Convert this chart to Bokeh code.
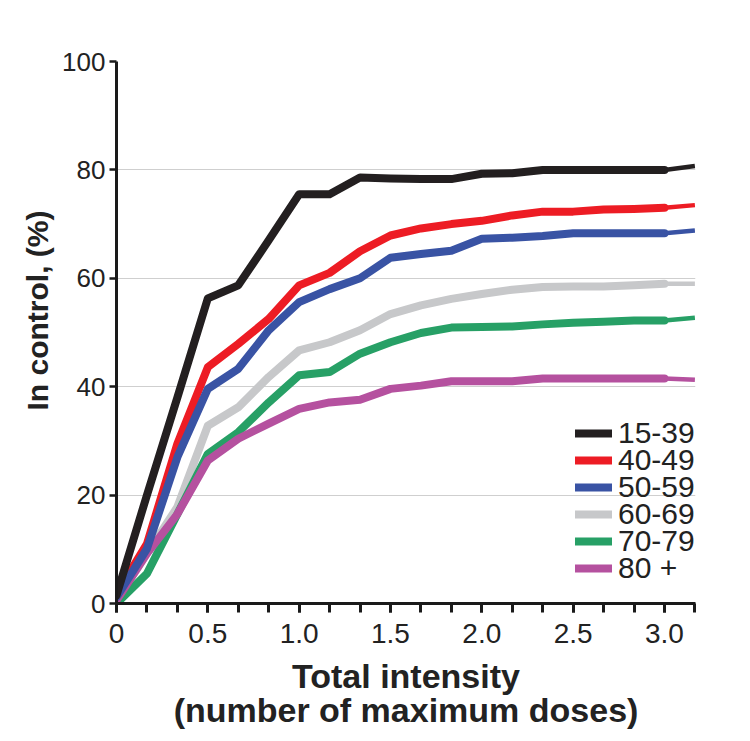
from bokeh.plotting import figure
from bokeh.models import Range1d, FixedTicker, Legend, LegendItem, Title
from bokeh.embed import file_html
from bokeh.resources import INLINE

# Dose intensity (number of maximum doses), steps of 1/6
intensity = [0.0, 0.1667, 0.3333, 0.5, 0.6667, 0.8333, 1.0, 1.1667, 1.3333, 1.5,
             1.6667, 1.8333, 2.0, 2.1667, 2.3333, 2.5, 2.6667, 2.8333, 3.0, 3.1667]

age_groups = ["15-39", "40-49", "50-59", "60-69", "70-79", "80 +"]

ctrl_15_39 = [1.5, 20.0, 38.0, 56.3, 58.7, 67.0, 75.5, 75.5, 78.6, 78.4,
              78.3, 78.3, 79.3, 79.4, 80.0, 80.0, 80.0, 80.0, 80.0, 80.7]
ctrl_40_49 = [1.8, 11.0, 29.5, 43.6, 47.9, 52.5, 58.7, 61.0, 65.0, 67.9,
              69.2, 70.0, 70.6, 71.6, 72.3, 72.3, 72.7, 72.8, 73.0, 73.5]
ctrl_50_59 = [1.2, 10.1, 27.0, 39.6, 43.3, 50.4, 55.6, 58.0, 60.0, 63.8,
              64.5, 65.1, 67.3, 67.5, 67.8, 68.3, 68.3, 68.3, 68.3, 68.8]
ctrl_60_69 = [0.6, 9.2, 17.8, 32.8, 36.2, 41.8, 46.7, 48.2, 50.4, 53.4,
              55.0, 56.2, 57.1, 57.9, 58.4, 58.5, 58.5, 58.7, 59.0, 59.0]
ctrl_70_79 = [0.0, 5.5, 16.5, 27.6, 31.6, 37.1, 42.1, 42.7, 46.1, 48.2,
              49.9, 50.9, 51.0, 51.1, 51.5, 51.8, 52.0, 52.2, 52.2, 52.7]
ctrl_80 = [0.6, 9.2, 16.5, 26.4, 30.4, 33.2, 35.9, 37.1, 37.6, 39.6,
           40.2, 41.0, 41.0, 41.0, 41.5, 41.5, 41.5, 41.5, 41.5, 41.3]

series = [ctrl_15_39, ctrl_40_49, ctrl_50_59, ctrl_60_69, ctrl_70_79, ctrl_80]
colors = ["#231f20", "#ed1c24", "#3953a4", "#c7c8ca", "#27a066", "#b5519f"]

x_major_ticks = [0, 0.5, 1.0, 1.5, 2.0, 2.5, 3.0]
x_tick_labels = ["0", "0.5", "1.0", "1.5", "2.0", "2.5", "3.0"]
y_ticks = [0, 20, 40, 60, 80, 100]

x_title = "Total intensity\n(number of maximum doses)"
y_title = "In control, (%)"

FONT = "Liberation Sans"
TXT = "#222222"

p = figure(width=745, height=740, x_range=Range1d(0, 3.17), y_range=Range1d(0, 100),
           output_backend="svg", toolbar_location=None,
           min_border_left=116, min_border_right=50, min_border_top=61, min_border_bottom=137)
p.outline_line_color = None
p.background_fill_color = "white"
p.border_fill_color = "white"

# grid
p.xgrid.visible = False
p.ygrid.ticker = FixedTicker(ticks=y_ticks)
p.ygrid.grid_line_color = "#cfcfcf"
p.ygrid.grid_line_width = 1.2

# x axis
xa = p.xaxis[0]
xa.ticker = FixedTicker(ticks=x_major_ticks, minor_ticks=intensity)
xa.major_label_overrides = {t: l for t, l in zip(x_major_ticks, x_tick_labels)}
xa.axis_line_width = 3
xa.axis_line_color = "#1a1a1a"
xa.major_tick_line_width = 3
xa.minor_tick_line_width = 3
xa.major_tick_line_color = "#1a1a1a"
xa.minor_tick_line_color = "#1a1a1a"
xa.major_tick_out = 9
xa.major_tick_in = 0
xa.minor_tick_out = 9
xa.minor_tick_in = 0
xa.major_label_text_font = FONT
xa.major_label_text_font_size = "28px"
xa.major_label_text_color = TXT
xa.major_label_standoff = 11
xa.axis_label = x_title
xa.axis_label_text_font = FONT
xa.axis_label_text_font_style = "bold"
xa.axis_label_text_font_size = "34px"
xa.axis_label_text_color = TXT
xa.axis_label_text_line_height = 0.92
xa.axis_label_standoff = 11

# y axis
ya = p.yaxis[0]
ya.ticker = FixedTicker(ticks=y_ticks)
ya.axis_line_width = 3
ya.axis_line_color = "#1a1a1a"
ya.major_tick_line_width = 2.5
ya.major_tick_line_color = "#1a1a1a"
ya.major_tick_out = 7
ya.major_tick_in = 0
ya.minor_tick_out = 0
ya.minor_tick_in = 0
ya.major_label_text_font = FONT
ya.major_label_text_font_size = "26px"
ya.major_label_text_color = TXT
ya.major_label_standoff = 4

# y title as a side title, starting above the frame bottom like the original
p.add_layout(Title(text=y_title, align="left", offset=193, standoff=12,
                   text_font=FONT, text_font_style="bold", text_font_size="30px",
                   text_color=TXT), "left")

# lines (draw order: gray, green, purple, red, blue, black)
draw_order = [3, 4, 5, 1, 2, 0]
renderers = {}
for i in draw_order:
    ys = series[i]
    r = p.line(intensity[:-1], ys[:-1], line_color=colors[i], line_width=8,
               line_join="round", line_cap="round")
    p.line(intensity[-2:], ys[-2:], line_color=colors[i], line_width=4.5,
           line_join="round", line_cap="butt")
    renderers[i] = r

# legend: one row per group, rows 27px apart
row_h = 34
first_center = 170  # px above frame bottom for first row
row_step = 27
for i in range(6):
    lg = Legend(items=[LegendItem(label=age_groups[i], renderers=[renderers[i]])],
                location=(459, first_center - i * row_step - row_h // 2))
    lg.background_fill_alpha = 0
    lg.border_line_color = None
    lg.padding = 0
    lg.margin = 0
    lg.spacing = 0
    lg.glyph_width = 37
    lg.glyph_height = row_h
    lg.label_height = row_h
    lg.label_standoff = 6
    lg.label_text_font = FONT
    lg.label_text_font_size = "30px"
    lg.label_text_color = TXT
    p.add_layout(lg, "center")

open("out.html", "w").write(file_html(p, INLINE))
